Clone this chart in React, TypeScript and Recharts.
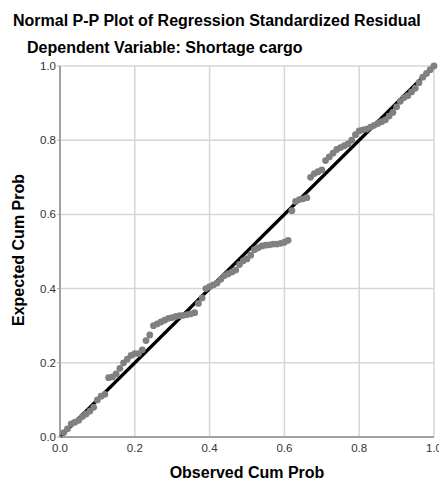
import React from 'react';
import { ScatterChart, Scatter, XAxis, YAxis, CartesianGrid, ReferenceLine } from 'recharts';

const titleText = 'Normal P-P Plot of Regression Standardized Residual';
const subtitleText = 'Dependent Variable: Shortage cargo';
const xLabel = 'Observed Cum Prob';
const yLabel = 'Expected Cum Prob';
const axisTicks = [0, 0.2, 0.4, 0.6, 0.8, 1.0];

const observedCumProb = [
  0.01, 0.02, 0.03, 0.04, 0.05, 0.06, 0.07, 0.08, 0.09, 0.10,
  0.11, 0.12, 0.13, 0.14, 0.15, 0.16, 0.17, 0.18, 0.19, 0.20,
  0.21, 0.22, 0.23, 0.24, 0.25, 0.26, 0.27, 0.28, 0.29, 0.30,
  0.31, 0.32, 0.33, 0.34, 0.35, 0.36, 0.37, 0.38, 0.39, 0.40,
  0.41, 0.42, 0.43, 0.44, 0.45, 0.46, 0.47, 0.48, 0.49, 0.50,
  0.51, 0.52, 0.53, 0.54, 0.55, 0.56, 0.57, 0.58, 0.59, 0.60,
  0.61, 0.62, 0.63, 0.64, 0.65, 0.66, 0.67, 0.68, 0.69, 0.70,
  0.71, 0.72, 0.73, 0.74, 0.75, 0.76, 0.77, 0.78, 0.79, 0.80,
  0.81, 0.82, 0.83, 0.84, 0.85, 0.86, 0.87, 0.88, 0.89, 0.90,
  0.91, 0.92, 0.93, 0.94, 0.95, 0.96, 0.97, 0.98, 0.99, 1.00,
];

const expectedCumProb = [
  0.012, 0.022, 0.035, 0.040, 0.045, 0.055, 0.062, 0.070, 0.080, 0.100,
  0.110, 0.115, 0.160, 0.162, 0.170, 0.185, 0.200, 0.210, 0.220, 0.225,
  0.225, 0.235, 0.260, 0.275, 0.300, 0.305, 0.310, 0.315, 0.320, 0.322,
  0.325, 0.327, 0.328, 0.330, 0.332, 0.335, 0.360, 0.375, 0.400, 0.405,
  0.410, 0.415, 0.425, 0.435, 0.440, 0.445, 0.450, 0.465, 0.475, 0.480,
  0.490, 0.505, 0.510, 0.515, 0.517, 0.518, 0.520, 0.520, 0.522, 0.525,
  0.530, 0.610, 0.635, 0.640, 0.642, 0.645, 0.700, 0.710, 0.715, 0.720,
  0.745, 0.755, 0.765, 0.775, 0.780, 0.785, 0.790, 0.800, 0.815, 0.825,
  0.828, 0.830, 0.835, 0.840, 0.845, 0.850, 0.855, 0.865, 0.875, 0.890,
  0.905, 0.915, 0.920, 0.930, 0.940, 0.955, 0.970, 0.980, 0.990, 1.000,
];

const data = observedCumProb.map((x, i) => ({ x, y: expectedCumProb[i] }));

const font = 'Arial, "Liberation Sans", sans-serif';

const Dot = (props: any) => (
  <circle cx={props.cx} cy={props.cy} r={3.4} fill="#808080" />
);

export default function App() {
  return (
    <div style={{ position: 'absolute', left: 0, top: 0, width: 439, height: 485, background: '#fff', fontFamily: font }}>
      <ScatterChart
        width={439}
        height={485}
        margin={{ top: 66, right: 5, bottom: 18, left: 20 }}
      >
        <CartesianGrid stroke="#d6d6d6" strokeWidth={1.5} />
        <XAxis
          type="number"
          dataKey="x"
          domain={[0, 1]}
          ticks={axisTicks}
          tickFormatter={(v: number) => v.toFixed(1)}
          interval={0}
          height={30}
          axisLine={{ stroke: '#8c8c8c', strokeWidth: 1.5 }}
          tickLine={false}
          tick={{ fill: '#333', fontSize: 11.5, fontFamily: font }}
          tickSize={2}
          tickMargin={5}
        />
        <YAxis
          type="number"
          dataKey="y"
          domain={[0, 1]}
          ticks={axisTicks}
          tickFormatter={(v: number) => v.toFixed(1)}
          interval={0}
          width={40}
          axisLine={{ stroke: '#8c8c8c', strokeWidth: 1.5 }}
          tickLine={{ stroke: '#aaa' }}
          tick={{ fill: '#333', fontSize: 11.5, fontFamily: font }}
          tickSize={3}
          tickMargin={1}
        />
        <Scatter data={data} shape={Dot} isAnimationActive={false} />
        <ReferenceLine
          segment={[{ x: 0, y: 0 }, { x: 1, y: 1 }]}
          stroke="#000"
          strokeWidth={3.2}
          ifOverflow="visible"
        />
      </ScatterChart>
      <svg width={439} height={485} style={{ position: 'absolute', left: 0, top: 0, pointerEvents: 'none' }}>
        <text x={13} y={26} fontSize={16} fontWeight="bold" fontFamily={font} fill="#000">{titleText}</text>
        <text x={27} y={53} fontSize={16} fontWeight="bold" fontFamily={font} fill="#000">{subtitleText}</text>
        <text x={247} y={478} fontSize={16} fontWeight="bold" fontFamily={font} fill="#000" textAnchor="middle">{xLabel}</text>
        <text x={24} y={250} fontSize={16} fontWeight="bold" fontFamily={font} fill="#000" textAnchor="middle" transform="rotate(-90 24 250)">{yLabel}</text>
      </svg>
    </div>
  );
}
